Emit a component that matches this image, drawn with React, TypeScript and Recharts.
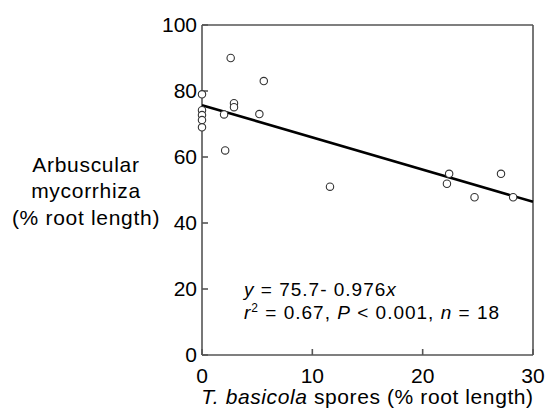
import React from "react";
import {
  ComposedChart,
  Scatter,
  XAxis,
  YAxis,
} from "recharts";

// spores (% root length) vs arbuscular mycorrhiza (% root length)
const sporesX = [0, 0, 0, 0, 0, 2.6, 5.6, 2.9, 2.9, 2.0, 5.2, 2.1, 11.6, 22.4, 22.2, 24.7, 27.1, 28.2];
const amY = [79, 74.2, 72.7, 71.2, 69, 90, 83, 76.3, 75.1, 72.9, 73, 62, 51, 54.9, 51.9, 47.8, 54.9, 47.8];

const fitIntercept = 75.7;
const fitSlope = -0.976;
const fitRange = [0, 30];

const xTicks = [0, 10, 20, 30];
const yTicks = [0, 20, 40, 60, 80, 100];

const points = sporesX.map((x, i) => ({ x, y: amY[i] }));
const fitLine = fitRange.map((x) => ({ x, y: fitIntercept + fitSlope * x }));

const FONT = '"Liberation Sans", Arial, sans-serif';
const AXIS = "#555";

const OpenCircle = (props: any) => (
  <circle cx={props.cx} cy={props.cy} r={3.7} fill="#fff" stroke="#333" strokeWidth={1.1} />
);

export default function App(): React.ReactElement {
  return (
    <div style={{ position: "absolute", left: 0, top: 0, width: 547, height: 410, fontFamily: FONT }}>
      <ComposedChart
        width={547}
        height={410}
        margin={{ top: 23, right: 12, bottom: 25, left: 162 }}
      >
        <XAxis
          dataKey="x"
          type="number"
          domain={[0, 30]}
          ticks={xTicks}
          tickSize={-6}
          tickMargin={19}
          axisLine={{ stroke: AXIS, strokeWidth: 1.6 }}
          tickLine={{ stroke: AXIS, strokeWidth: 1.6 }}
          tick={{ fill: "#000", fontSize: 21, fontFamily: FONT }}
          height={30}
          label={{
            content: (p: any) => {
              const vb = p.viewBox;
              return (
                <text
                  x={vb.x + vb.width / 2}
                  y={vb.y + vb.height + 19}
                  textAnchor="middle"
                  fontSize={21}
                  letterSpacing={0.6}
                  fontFamily={FONT}
                  fill="#000"
                >
                  <tspan fontStyle="italic">T. basicola</tspan>
                  <tspan> spores (% root length)</tspan>
                </text>
              );
            },
          }}
        />
        <XAxis
          xAxisId="top"
          orientation="top"
          type="number"
          domain={[0, 30]}
          ticks={xTicks}
          tickSize={-6}
          tickFormatter={() => ""}
          axisLine={{ stroke: AXIS, strokeWidth: 1.6 }}
          tickLine={{ stroke: AXIS, strokeWidth: 1.6 }}
          height={2}
        />
        <YAxis
          dataKey="y"
          type="number"
          domain={[0, 100]}
          ticks={yTicks}
          tickSize={-6}
          tickMargin={11}
          axisLine={{ stroke: AXIS, strokeWidth: 1.6 }}
          tickLine={{ stroke: AXIS, strokeWidth: 1.6 }}
          tick={{ fill: "#000", fontSize: 21, fontFamily: FONT }}
          width={40}
          label={{
            content: () => (
              <text textAnchor="middle" fontSize={21} letterSpacing={0.7} fontFamily={FONT} fill="#000">
                <tspan x={86} y={172}>Arbuscular</tspan>
                <tspan x={86} y={198}>mycorrhiza</tspan>
                <tspan x={86} y={225}>(% root length)</tspan>
              </text>
            ),
          }}
        />
        <YAxis
          yAxisId="right"
          orientation="right"
          type="number"
          domain={[0, 100]}
          ticks={yTicks}
          tickSize={-6}
          tickFormatter={() => ""}
          axisLine={{ stroke: AXIS, strokeWidth: 1.6 }}
          tickLine={{ stroke: AXIS, strokeWidth: 1.6 }}
          width={2}
        />
        <Scatter
          data={fitLine}
          line={{ stroke: "#000", strokeWidth: 2.6 }}
          shape={() => <g />}
          isAnimationActive={false}
        />
        <Scatter data={points} shape={OpenCircle} isAnimationActive={false} />
      </ComposedChart>
      <div
        style={{
          position: "absolute",
          left: 244,
          top: 278,
          fontSize: 19,
          lineHeight: "23px",
          letterSpacing: 1,
          color: "#000",
          whiteSpace: "nowrap",
        }}
      >
        <div>
          <i>y</i> = 75.7- 0.976<i>x</i>
        </div>
        <div>
          <i>r</i>
          <sup style={{ fontSize: 12, lineHeight: 0 }}>2</sup> = 0.67, <i>P</i> &lt; 0.001, <i>n</i> = 18
        </div>
      </div>
    </div>
  );
}
